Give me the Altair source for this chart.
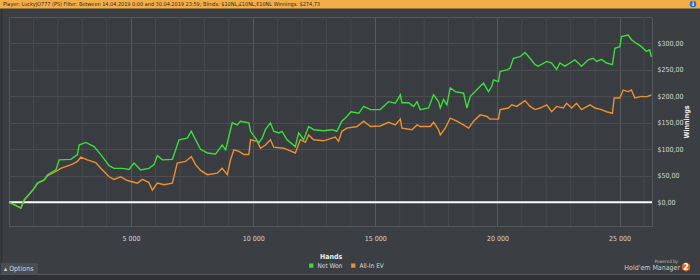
import altair as alt
import pandas as pd

# ---------------- data ----------------
net_hands = [0, 486, 620, 1030, 1170, 1440, 1580, 1920, 2055, 2530,
             2805, 2870, 3145, 3485, 3760, 4100, 4300, 4645, 4915, 5120,
             5390, 5730, 5940, 6075, 6280, 6690, 6825, 6960, 7300, 7465,
             7575, 7845, 8120, 8460, 8730, 8870, 9140, 9345, 9480, 9820,
             9890, 10095, 10230, 10365, 10500, 10705, 10840, 11045, 11180, 11385,
             11725, 11860, 12065, 12270, 12475, 12880, 13225, 13425, 13630, 13835,
             14000, 14320, 14525, 14800, 15200, 15545, 15820, 16025, 16090, 16365,
             16570, 16710, 16840, 17180, 17385, 17590, 17660, 17795, 17930, 18070,
             18275, 18615, 18750, 18890, 19090, 19295, 19430, 19635, 19770, 19840,
             20045, 20110, 20380, 20515, 20655, 20925, 21130, 21335, 21540, 21675,
             22020, 22220, 22425, 22560, 22765, 22970, 23170, 23445, 23720, 23920,
             24060, 24260, 24470, 24710, 24810, 25015, 25080, 25355, 25490, 25695,
             25900, 26100, 26235, 26305]
net_won = [0, -11, 4, 26, 36, 42, 52, 61, 80, 81,
           90, 108, 113, 105, 90, 69, 64, 64, 62, 74,
           61, 64, 71, 88, 80, 81, 99, 118, 121, 134,
           124, 100, 93, 91, 108, 99, 150, 146, 153, 150,
           134, 121, 112, 121, 137, 150, 134, 131, 134, 118,
           105, 131, 118, 143, 137, 135, 137, 134, 153, 162,
           171, 168, 181, 175, 175, 190, 187, 203, 188, 188,
           181, 190, 175, 178, 203, 190, 178, 194, 184, 216,
           209, 206, 178, 200, 209, 219, 225, 209, 219, 231,
           228, 247, 250, 253, 272, 275, 283, 272, 260, 257,
           266, 263, 251, 263, 257, 263, 269, 257, 269, 272,
           266, 270, 263, 260, 291, 294, 313, 316, 307, 300,
           294, 285, 288, 274.73]

ev_hands = [0, 486, 620, 1030, 1170, 1440, 1580, 1920, 2120, 2600,
            2805, 2940, 3210, 3550, 3760, 4100, 4300, 4570, 4850, 5260,
            5460, 5730, 5870, 6075, 6345, 6690, 6890, 7230, 7465, 7640,
            7845, 8120, 8530, 8730, 8940, 9070, 9210, 9415, 9620, 9820,
            9890, 10165, 10300, 10500, 10705, 10840, 11250, 11725, 11930, 12135,
            12270, 12475, 12880, 13360, 13495, 13630, 13835, 14250, 14525, 14800,
            15200, 15545, 15820, 16025, 16090, 16500, 16710, 16840, 17255, 17385,
            17590, 17660, 17865, 18070, 18340, 18615, 18820, 19025, 19295, 19570,
            19700, 20045, 20110, 20450, 20590, 20790, 21130, 21335, 21540, 21745,
            22020, 22220, 22425, 22700, 22835, 23040, 23240, 23445, 23790, 23995,
            24260, 24470, 24710, 24780, 25015, 25150, 25355, 25490, 25625, 25900,
            26100, 26305]
all_in_ev = [0, -11, 4, 26, 36, 42, 50, 58, 64, 72,
             77, 85, 80, 75, 64, 48, 43, 48, 41, 36,
             43, 37, 23, 36, 33, 36, 74, 77, 86, 71,
             60, 52, 55, 64, 52, 80, 99, 96, 90, 90,
             118, 115, 102, 108, 118, 104, 102, 93, 118, 113,
             127, 118, 116, 123, 115, 134, 140, 143, 153, 143,
             144, 151, 146, 157, 140, 137, 146, 143, 143, 151,
             137, 127, 140, 159, 153, 146, 140, 153, 165, 162,
             157, 157, 175, 178, 184, 181, 192, 181, 175, 178,
             184, 171, 181, 178, 187, 178, 187, 175, 184, 178,
             175, 171, 168, 197, 197, 212, 209, 212, 197, 200,
             199, 203]

series_names = ["Net Won", "All-In EV"]
series_colors = ["#3ade3a", "#ef902c"]

x_label_values = [5000, 10000, 15000, 20000, 25000]
x_minor_grid = [1000, 2000, 3000, 4000, 6000, 7000, 8000, 9000, 11000, 12000,
                13000, 14000, 16000, 17000, 18000, 19000, 21000, 22000, 23000,
                24000, 26000]
y_label_values = [0, 50, 100, 150, 200, 250, 300]

header_text = ("Player: LuckyJO777 (PS)  Filter: Between 14.04.2019 0:00 and "
               "30.04.2019 23:59; Blinds: $10NL,\u00a310NL,\u20ac10NL  Winnings: $274,73")

FONT = "Liberation Sans Narrow, DejaVu Sans Condensed, Arial Narrow, sans-serif"

net_df = pd.DataFrame({"hands": net_hands, "value": net_won, "series": series_names[0]})
ev_df = pd.DataFrame({"hands": ev_hands, "value": all_in_ev, "series": series_names[1]})
minor_df = pd.DataFrame({"hands": x_minor_grid})

x_scale = alt.Scale(domain=[0, 26330], nice=False, zero=False)
y_scale = alt.Scale(domain=[-45, 350], nice=False, zero=False)

x_axis = alt.Axis(
    values=x_label_values,
    labelExpr="replace(format(datum.value, ','), ',', ' ')",
    labelOverlap=False,
    title="Hands",
    grid=True,
    gridColor="#56595e",
    gridWidth=1,
    domain=False,
    ticks=False,
    labelColor="#d6d6d6",
    labelFont=FONT,
    labelFontSize=7,
    labelPadding=8,
    titleColor="#eeeeee",
    titleFont=FONT,
    titleFontSize=7,
    titleFontWeight="bold",
    titlePadding=11,
)
y_axis = alt.Axis(
    orient="right",
    values=y_label_values,
    labelExpr="'$' + replace(format(datum.value, '.2f'), '.', ',')",
    labelOverlap=False,
    title="Winnings",
    titleAngle=-90,
    grid=True,
    gridColor="#4a4d51",
    domain=False,
    ticks=False,
    labelColor="#d6d6d6",
    labelFont=FONT,
    labelFontSize=7,
    labelPadding=5,
    labelBaseline="middle",
    titleColor="#eeeeee",
    titleFont=FONT,
    titleFontSize=7,
    titleFontWeight="bold",
    titlePadding=6,
)
x_enc = alt.X("hands:Q", scale=x_scale, axis=x_axis)
y_enc = alt.Y("value:Q", scale=y_scale, axis=y_axis)
color_enc = alt.Color(
    "series:N",
    scale=alt.Scale(domain=series_names, range=series_colors),
    legend=alt.Legend(
        orient="none", legendX=299, legendY=245, direction="horizontal",
        title=None, symbolType="square", symbolSize=5, symbolStrokeWidth=2,
        labelFont=FONT, labelFontSize=6.5, labelColor="#dddddd",
        labelOffset=3, columnPadding=5, padding=0,
    ),
)

minor_grid = alt.Chart(minor_df).mark_rule(color="#46494d", strokeWidth=1).encode(
    x=alt.X("hands:Q", scale=x_scale, axis=x_axis))

ev_line = alt.Chart(ev_df).mark_line(strokeWidth=1.4, interpolate="linear").encode(
    x=x_enc, y=y_enc, color=color_enc)
net_line = alt.Chart(net_df).mark_line(strokeWidth=1.4, interpolate="linear").encode(
    x=x_enc, y=y_enc, color=color_enc)

zero_line = alt.Chart(pd.DataFrame({"value": [0]})).mark_rule(color="#ffffff", strokeWidth=2).encode(
    y=y_enc)

one = pd.DataFrame({"t": [header_text]})

header_bar = alt.Chart(one).mark_rect(color="#f4ae48").encode(
    x=alt.value(-9), x2=alt.value(691), y=alt.value(-17), y2=alt.value(-8.5))
header_txt = alt.Chart(one).mark_text(
    align="left", baseline="middle", font=FONT, fontSize=5.5, color="#2a2a2a").encode(
    x=alt.value(-6), y=alt.value(-12.7), text="t:N")
info_icon = alt.Chart(one).mark_point(
    shape="circle", filled=True, size=45, color="#2f6fc4", opacity=1).encode(
    x=alt.value(684), y=alt.value(-13))
info_i = alt.Chart(pd.DataFrame({"t": ["i"]})).mark_text(
    fontSize=6, fontWeight="bold", color="#ffffff", font="DejaVu Sans").encode(
    x=alt.value(684), y=alt.value(-12.8), text="t:N")

bottom_strip = alt.Chart(one).mark_rect(color="#2f3134").encode(
    x=alt.value(-9), x2=alt.value(691), y=alt.value(258), y2=alt.value(263))
bottom_line = alt.Chart(one).mark_rule(color="#55585c", strokeWidth=1).encode(
    x=alt.value(-9), x2=alt.value(691), y=alt.value(257.5))
left_line = alt.Chart(one).mark_rule(color="#2f3134", strokeWidth=1.5).encode(
    x=alt.value(-7.5), y=alt.value(-8), y2=alt.value(258))
options_btn = alt.Chart(one).mark_rect(color="#4a4d51").encode(
    x=alt.value(-8), x2=alt.value(29), y=alt.value(246), y2=alt.value(257.5))
options_txt = alt.Chart(pd.DataFrame({"t": ["\u25b4   Options"]})).mark_text(
    align="left", baseline="middle", font=FONT, fontSize=7, color="#d6d6d6").encode(
    x=alt.value(-5), y=alt.value(252), text="t:N")

powered = alt.Chart(pd.DataFrame({"t": ["Powered by"]})).mark_text(
    align="right", baseline="middle", font=FONT, fontSize=4.5, color="#bbbbbb").encode(
    x=alt.value(669), y=alt.value(244.5), text="t:N")
hm_txt = alt.Chart(pd.DataFrame({"t": ["Hold'em Manager"]})).mark_text(
    align="right", baseline="middle", font=FONT, fontSize=7, color="#cfcfcf").encode(
    x=alt.value(671), y=alt.value(251), text="t:N")
hm_hex = alt.Chart(one).mark_point(
    shape="M0,-1L0.866,-0.5L0.866,0.5L0,1L-0.866,0.5L-0.866,-0.5Z",
    filled=True, size=90, color="#e0661e", opacity=1).encode(
    x=alt.value(677), y=alt.value(250))
hm_two = alt.Chart(pd.DataFrame({"t": ["2"]})).mark_text(
    baseline="middle", font="DejaVu Sans", fontSize=8, fontWeight="bold", color="#ffffff").encode(
    x=alt.value(677), y=alt.value(250.5), text="t:N")

chart = alt.layer(
    minor_grid,
    header_bar, header_txt, info_icon, info_i,
    bottom_strip, bottom_line, left_line, options_btn, options_txt,
    powered, hm_txt, hm_hex, hm_two,
    zero_line, ev_line, net_line,
).resolve_scale(color="shared").properties(
    width=643, height=209,
    autosize=alt.AutoSizeParams(type="none"),
    padding={"left": 9, "top": 17, "right": 48, "bottom": 54},
    background="#3b3e42",
).configure_view(
    stroke="#55585c", strokeWidth=1, fill="#393c40",
)

chart.save("out.html", embed_options={"renderer": "svg", "actions": False})
